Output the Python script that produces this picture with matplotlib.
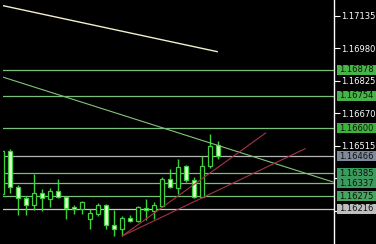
import matplotlib
matplotlib.use('Agg')
import matplotlib.pyplot as plt
import matplotlib.transforms as mtransforms
from matplotlib.patches import Rectangle

# candle index (0 = leftmost full candle)
idx = list(range(-1, 27))
opens = [1.16286, 1.16490, 1.16319, 1.16267, 1.16235, 1.16292, 1.16264, 1.16299,
         1.16272, 1.16224, 1.16213, 1.16165, 1.16192, 1.16232, 1.16137, 1.16118,
         1.16173, 1.16156, 1.16219, 1.16204, 1.16229, 1.16356, 1.16316, 1.16418,
         1.16351, 1.16272, 1.16418, 1.16518]
highs = [1.16495, 1.16499, 1.16328, 1.16277, 1.16383, 1.16311, 1.16315, 1.16356,
         1.16272, 1.16235, 1.16253, 1.16213, 1.16245, 1.16237, 1.16208, 1.16181,
         1.16187, 1.16229, 1.16261, 1.16248, 1.16367, 1.16407, 1.16454, 1.16426,
         1.16367, 1.16466, 1.16574, 1.16537]
lows = [1.16283, 1.16292, 1.16187, 1.16187, 1.16208, 1.16205, 1.16224, 1.16267,
        1.16168, 1.16192, 1.16192, 1.16121, 1.16181, 1.16118, 1.16086, 1.16086,
        1.16153, 1.16153, 1.16161, 1.16168, 1.16224, 1.16315, 1.16288, 1.16343,
        1.16267, 1.16272, 1.16410, 1.16452]
closes = [1.16491, 1.16319, 1.16267, 1.16232, 1.16292, 1.16267, 1.16299, 1.16272,
          1.16219, 1.16213, 1.16248, 1.16197, 1.16232, 1.16137, 1.16118, 1.16173,
          1.16157, 1.16224, 1.16208, 1.16232, 1.16356, 1.16319, 1.16415, 1.16351,
          1.16272, 1.16418, 1.16515, 1.16467]

# horizontal levels with their label box colours
levels = [1.16878, 1.16754, 1.16600, 1.16466, 1.16385, 1.16337, 1.16275, 1.16216]
level_line_colors = ['#78c078', '#78c078', '#78c078', '#b4b4b4',
                     '#78c078', '#78c078', '#78c078', '#c8c8c8']
level_box_colors = ['#46b446', '#46b446', '#3cb43c', '#7d8a9a',
                    '#3c9a5e', '#3c9a5e', '#46a65e', '#bebebe']

# drawn lines (index, price) endpoints
ma_x = [-0.84, 25.9]
ma_y = [1.17184, 1.16965]
trend_x = [-0.84, 40.4]
trend_y = [1.16843, 1.16343]
red1_x = [14.04, 31.96]
red1_y = [1.16086, 1.16577]
red2_x = [14.04, 36.88]
red2_y = [1.16086, 1.16502]

yticks = [1.17135, 1.16980, 1.16825, 1.16670, 1.16515, 1.16360, 1.16205]
# the last two tick labels sit under the level boxes
ytick_labels = ['1.17135', '1.16980', '1.16825', '1.16670', '1.16515', '', '']

W, H = 376, 244
fig = plt.figure(figsize=(W / 100, H / 100), dpi=100, facecolor='black')
ax = fig.add_axes([3 / W, 0, 331 / W, 1], facecolor='black')
ax.set_xlim(-0.875, 40.5)
ax.set_ylim(1.160476, 1.172113)

edge = '#3cd23c'
fill = '#e2f8d2'
for i, o, h, l, c in zip(idx, opens, highs, lows, closes):
    ax.vlines(i, l, h, color=edge, lw=1.0, zorder=2)
    face = fill if c < o else 'black'
    ax.bar(i, max(abs(c - o), 0.00002), bottom=min(o, c), width=0.6,
           facecolor=face, edgecolor=edge, linewidth=0.9, zorder=3)

for lv, col in zip(levels, level_line_colors):
    ax.axhline(lv, color=col, lw=0.9, zorder=1)

ax.plot(ma_x, ma_y, color='#f2eecb', lw=1.0, zorder=4)
ax.plot(trend_x, trend_y, color='#84c47a', lw=0.8, zorder=4)
ax.plot(red1_x, red1_y, color='#a83444', lw=0.8, zorder=4)
ax.plot(red2_x, red2_y, color='#a83444', lw=0.8, zorder=4)

for s in ['top', 'bottom', 'left']:
    ax.spines[s].set_visible(False)
ax.spines['right'].set_color('white')
ax.spines['right'].set_linewidth(1.0)
ax.set_xticks([])
ax.yaxis.tick_right()
ax.set_yticks(yticks)
ax.set_yticklabels(ytick_labels)
ax.tick_params(axis='y', colors='white', length=4, width=0.8, pad=1,
               labelsize=6)

trans = mtransforms.blended_transform_factory(ax.transAxes, ax.transData)
box_h = 10 * (1.172113 - 1.160476) / 244
for lv, col in zip(levels, level_box_colors):
    ax.add_patch(Rectangle((1.009, lv - box_h / 2), 0.13, box_h,
                           transform=trans, facecolor=col, edgecolor='none',
                           clip_on=False, zorder=5))
    ax.text(1.014, lv, '%.5f' % lv, transform=trans, color='#101010',
            fontsize=6, va='center', ha='left', clip_on=False, zorder=6)

plt.savefig('out.png', dpi=100, facecolor='black')
